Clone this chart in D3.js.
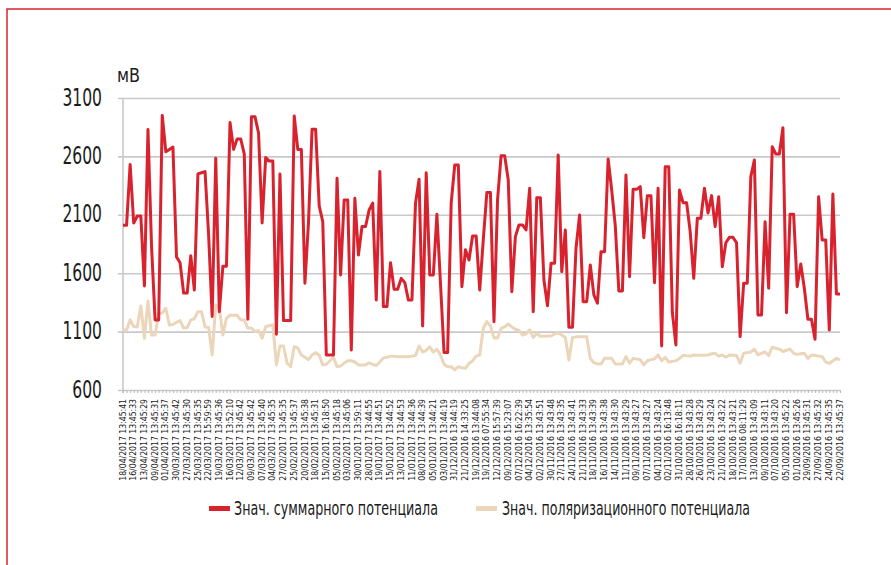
<!DOCTYPE html>
<html>
<head>
<meta charset="utf-8">
<script src="https://cdn.jsdelivr.net/npm/d3@7"></script>
<style>
body { margin: 0; background: #fff; }
svg text { font-family: "Liberation Sans Narrow", "DejaVu Sans Condensed", "Roboto", sans-serif; fill: #1b1b1b; }
</style>
</head>
<body>
<svg id="chart" width="891" height="565"></svg>
<script>
// summary potential, mV (newest first, as in the source table)
var summary = [
  2010, 2010, 2530, 2030, 2090, 2090, 1490, 2830, 1830, 1200,
  1200, 2950, 2640, 2660, 2680, 1740, 1690, 1430, 1430, 1750,
  1456, 2450, 2460, 2470, 1930, 1230, 2585, 1270, 1660, 1660,
  2890, 2660, 2750, 2750, 2620, 1206, 2940, 2940, 2800, 2030,
  2590, 2560, 2560, 1077, 2450, 1194, 1194, 1194, 2946, 2660,
  2660, 1514, 2033, 2832, 2832, 2176, 2041, 900, 900, 900,
  2413, 1585, 2227, 2227, 943, 2241, 1756, 2000, 2000, 2141,
  2200, 1371, 2470, 1314, 1314, 1690, 1462, 1462, 1556, 1519,
  1371, 1371, 2200, 2404, 1148, 2460, 1585, 1585, 2104, 1514,
  920, 920, 2200, 2526, 2526, 1485, 1800, 1713, 1919, 1919,
  1456, 1885, 2290, 2290, 1185, 2227, 2606, 2606, 2398, 1442,
  1913, 2013, 2013, 1970, 2327, 1271, 2247, 2247, 1542, 1322,
  1685, 1685, 2612, 1613, 1970, 1137, 1137, 1816, 2099, 1356,
  1356, 1670, 1414, 1343, 1784, 1784, 2578, 2312, 2007, 1448,
  1448, 2441, 1570, 2318, 2318, 2341, 1904, 2264, 2264, 1519,
  2327, 977, 2512, 2512, 1262, 986, 2312, 2204, 2204, 1956,
  1556, 2070, 2070, 2327, 2116, 2264, 2000, 2255, 1656, 1861,
  1907, 1907, 1861, 1057, 1514, 1514, 2427, 2569, 1243, 1243,
  2041, 1471, 2683, 2621, 2621, 2846, 1262, 2104, 2104, 1485,
  1679, 1471, 1206, 1206, 1035, 2255, 1885, 1885, 1114, 2278,
  1422, 1422
];

// polarisation potential, mV
var polar = [
  1114, 1114, 1200, 1143, 1140, 1320, 1043, 1362, 1071, 1071,
  1255, 1260, 1300, 1157, 1160, 1180, 1194, 1130, 1135, 1200,
  1210, 1271, 1271, 1140, 1135, 900, 1328, 1300, 1071, 1214,
  1240, 1240, 1240, 1200, 1200, 1130, 1130, 1100, 1110, 1043,
  1143, 1150, 1157, 815, 977, 977, 830, 800, 970, 960,
  900, 880, 860, 900, 920, 900, 815, 820, 850, 880,
  800, 805, 830, 851, 850, 840, 815, 815, 815, 833,
  820, 810, 840, 875, 880, 890, 888, 885, 885, 885,
  885, 890, 895, 977, 925, 940, 970, 925, 950, 900,
  820, 800, 800, 772, 800, 790, 785, 827, 850, 890,
  900, 1128, 1185, 1150, 1046, 1046, 1128, 1140, 1165, 1140,
  1120, 1110, 1071, 1080, 1115, 1050, 1085, 1060, 1060, 1062,
  1062, 1080, 1090, 1070, 1050, 857, 1050, 1055, 1055, 1055,
  1055, 870, 834, 823, 823, 871, 871, 871, 823, 823,
  823, 886, 830, 871, 865, 860, 815, 850, 860, 865,
  900, 850, 880, 840, 845, 850, 870, 897, 893, 890,
  900, 898, 897, 898, 900, 910, 914, 890, 900, 880,
  900, 898, 895, 830, 914, 920, 925, 949, 900, 915,
  925, 895, 966, 958, 950, 930, 940, 950, 914, 905,
  910, 914, 870, 900, 895, 890, 885, 840, 827, 850,
  871, 857
];

// every third measurement is labelled
var dateLabels = [
  "18/04/2017 13:45:41", "16/04/2017 13:45:33", "13/04/2017 13:45:29", "09/04/2017 13:45:31",
  "01/04/2017 13:45:37", "30/03/2017 13:45:42", "27/03/2017 13:45:30", "25/03/2017 13:45:35",
  "22/03/2017 15:59:59", "19/03/2017 13:45:36", "16/03/2017 13:52:10", "12/03/2017 13:45:42",
  "09/03/2017 13:45:42", "07/03/2017 13:45:40", "04/03/2017 13:45:35", "27/02/2017 13:45:35",
  "25/02/2017 13:45:37", "20/02/2017 13:45:38", "18/02/2017 13:45:31", "15/02/2017 16:18:50",
  "05/02/2017 13:45:18", "03/02/2017 13:45:06", "30/01/2017 13:59:11", "28/01/2017 13:44:55",
  "19/01/2017 13:44:51", "15/01/2017 13:44:52", "13/01/2017 13:44:53", "11/01/2017 13:44:36",
  "08/01/2017 13:44:39", "05/01/2017 13:44:21", "03/01/2017 13:44:19", "31/12/2016 13:44:19",
  "21/12/2016 14:33:25", "19/12/2016 13:44:08", "19/12/2016 07:55:34", "12/12/2016 15:57:39",
  "09/12/2016 15:23:07", "07/12/2016 16:22:39", "04/12/2016 13:35:54", "02/12/2016 13:43:51",
  "30/11/2016 13:43:48", "27/11/2016 13:43:35", "24/11/2016 13:43:41", "21/11/2016 13:43:33",
  "18/11/2016 13:43:39", "16/11/2016 13:43:38", "14/11/2016 13:43:30", "11/11/2016 13:43:29",
  "09/11/2016 13:43:27", "07/11/2016 13:43:27", "04/11/2016 13:43:24", "02/11/2016 16:13:48",
  "31/10/2016 16:18:11", "28/10/2016 13:43:28", "26/10/2016 13:43:29", "23/10/2016 13:43:24",
  "21/10/2016 13:43:22", "18/10/2016 13:43:21", "17/10/2016 08:11:29", "13/10/2016 13:43:09",
  "09/10/2016 13:43:11", "07/10/2016 13:43:20", "05/10/2016 13:45:22", "01/10/2016 13:45:26",
  "29/09/2016 13:45:31", "27/09/2016 13:45:32", "24/09/2016 13:45:35", "22/09/2016 13:45:37"
];

var yTicks = [600, 1100, 1600, 2100, 2600, 3100];
var seriesNames = ["Знач. суммарного потенциала", "Знач. поляризационного потенциала"];
var seriesColors = ["#d8232e", "#ecd6bb"];
var unitLabel = "мВ";
var labelStep = 3;

var svg = d3.select("#chart");
var margin = { top: 98, bottom: 175, left: 123, right: 51 };
var width = 891 - margin.left - margin.right;
var height = 565 - margin.top - margin.bottom;

// outer red frame (runs off the right and bottom of the picture)
svg.append("rect")
  .attr("x", 7).attr("y", 9)
  .attr("width", 900).attr("height", 570)
  .attr("fill", "none")
  .attr("stroke", "#d8232e")
  .attr("stroke-width", 1.5);

var g = svg.append("g")
  .attr("transform", "translate(" + margin.left + "," + margin.top + ")");

var x = d3.scalePoint()
  .domain(d3.range(summary.length))
  .range([0, width]);

var y = d3.scaleLinear()
  .domain([600, 3100])
  .range([height, 0]);

// horizontal grid + value labels
var yAxis = d3.axisLeft(y)
  .tickValues(yTicks)
  .tickSize(-width - 5)
  .tickPadding(16)
  .tickFormat(d3.format("d"));

var yG = g.append("g")
  .attr("class", "y axis")
  .attr("transform", "translate(-5,0)")
  .call(yAxis);
yG.select(".domain").remove();
yG.selectAll("line")
  .attr("stroke", "#c9c9c9")
  .attr("stroke-width", 1.6);
yG.selectAll("text")
  .attr("font-size", 25)
  .attr("fill", "#1b1b1b")
  .attr("dy", "0.28em")
  .attr("textLength", function (d) { return String(d).length * 9.9; })
  .attr("lengthAdjust", "spacingAndGlyphs");

// vertical axis line
g.append("line")
  .attr("x1", 0).attr("x2", 0)
  .attr("y1", 0).attr("y2", height + 3)
  .attr("stroke", "#c9c9c9")
  .attr("stroke-width", 1.6);

// category axis with small ticks at every measurement
var xAxis = d3.axisBottom(x)
  .tickSize(3)
  .tickFormat("");
var xG = g.append("g")
  .attr("transform", "translate(0," + height + ")")
  .call(xAxis);
xG.select(".domain").remove();
xG.selectAll("line").attr("stroke", "#bdbdbd").attr("stroke-width", 1);

g.append("g")
  .selectAll("text")
  .data(dateLabels)
  .enter()
  .append("text")
  .attr("transform", function (d, i) {
    return "translate(" + (x(i * labelStep) + 2.6) + "," + (height + 9) + ") rotate(-90)";
  })
  .attr("text-anchor", "end")
  .attr("font-size", 8.6)
  .attr("fill", "#222")
  .text(function (d) { return d; });

// lines
var line = d3.line()
  .x(function (d, i) { return x(i); })
  .y(function (d) { return y(d); });

g.append("path")
  .datum(polar)
  .attr("fill", "none")
  .attr("stroke", seriesColors[1])
  .attr("stroke-width", 3)
  .attr("stroke-linejoin", "round")
  .attr("d", line);

g.append("path")
  .datum(summary)
  .attr("fill", "none")
  .attr("stroke", seriesColors[0])
  .attr("stroke-width", 3)
  .attr("stroke-linejoin", "round")
  .attr("d", line);

// unit
svg.append("text")
  .attr("x", 117)
  .attr("y", 82)
  .attr("font-size", 20)
  .attr("textLength", 23)
  .attr("lengthAdjust", "spacingAndGlyphs")
  .text(unitLabel);

// legend
var legendPos = [{ sx: 209, tx: 234, tw: 204 }, { sx: 476, tx: 502, tw: 248 }];
var legend = svg.append("g").selectAll("g")
  .data(seriesNames)
  .enter()
  .append("g");

legend.append("rect")
  .attr("x", function (d, i) { return legendPos[i].sx; })
  .attr("y", 506)
  .attr("width", 21)
  .attr("height", 5)
  .attr("fill", function (d, i) { return seriesColors[i]; });

legend.append("text")
  .attr("x", function (d, i) { return legendPos[i].tx; })
  .attr("y", 515)
  .attr("font-size", 19)
  .attr("textLength", function (d, i) { return legendPos[i].tw; })
  .attr("lengthAdjust", "spacingAndGlyphs")
  .text(function (d) { return d; });
</script>
</body>
</html>
